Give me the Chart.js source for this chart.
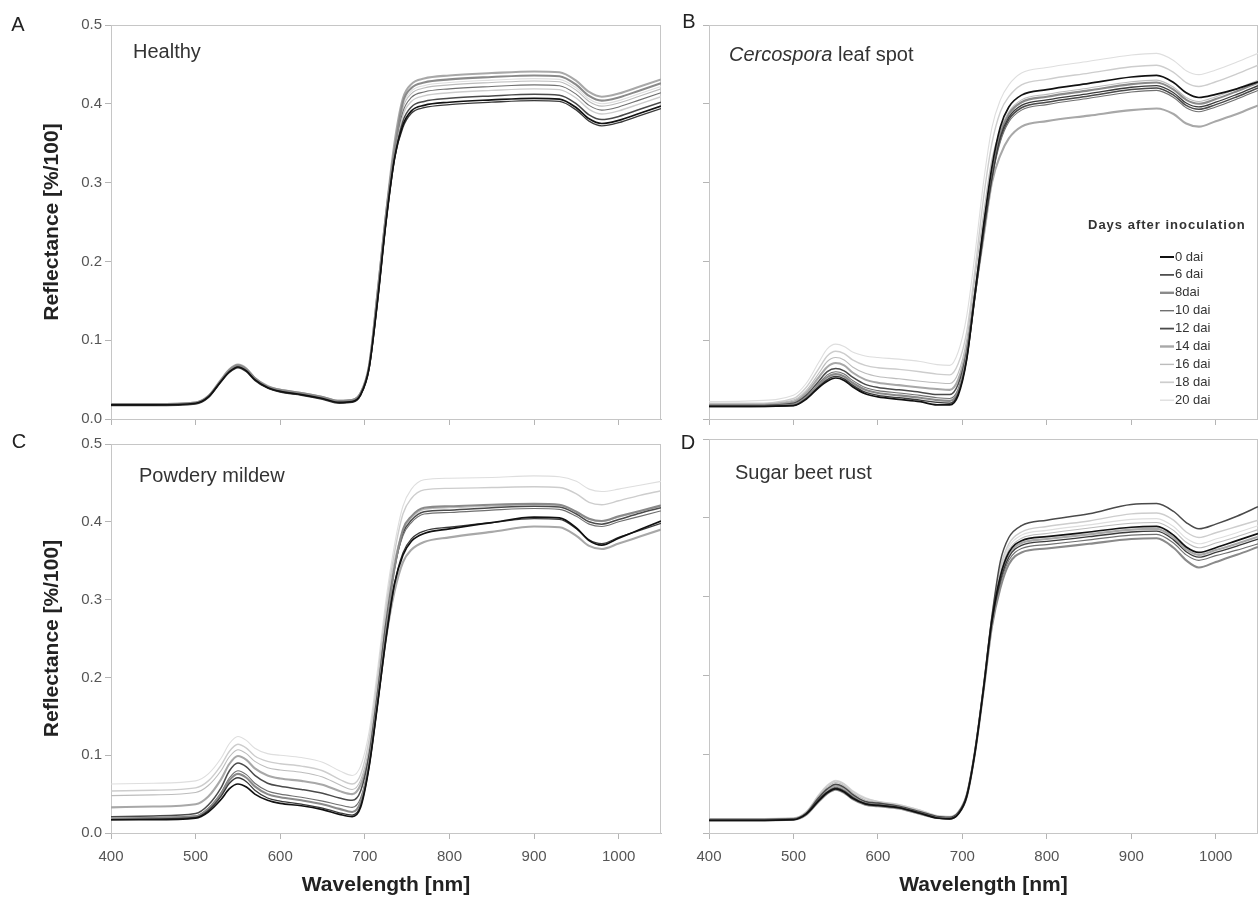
<!DOCTYPE html>
<html>
<head>
<meta charset="utf-8">
<title>Reflectance spectra of sugar beet leaves</title>
<script src="https://cdn.jsdelivr.net/npm/chart.js@4.4.1/dist/chart.umd.min.js"></script>
<style>
  body { margin: 0; background: #fff; }
  #wrap { position: relative; width: 1258px; height: 901px; overflow: hidden; }
  canvas { position: absolute; }
</style>
</head>
<body>
<div id="wrap">
  <canvas id="chartA" width="664" height="432" style="left:0;top:0"></canvas>
  <canvas id="chartB" width="594" height="432" style="left:664px;top:0"></canvas>
  <canvas id="chartC" width="664" height="469" style="left:0;top:432px"></canvas>
  <canvas id="chartD" width="594" height="469" style="left:664px;top:432px"></canvas>
</div>
<script>
const wavelengths = [400, 450, 500, 515, 530, 540, 550, 560, 570, 585, 600, 625, 650, 670, 685, 695,
  705, 715, 725, 735, 745, 755, 770, 800, 850, 900, 930, 950, 965, 980, 1000, 1025, 1050];
const daiLabels = ['0 dai', '6 dai', '8dai', '10 dai', '12 dai', '14 dai', '16 dai', '18 dai', '20 dai'];
const xTicks = [400, 500, 600, 700, 800, 900, 1000];
const yTicks = [0, 0.1, 0.2, 0.3, 0.4, 0.5];

// one row per dai (0, 6, 8, 10, 12, 14, 16, 18, 20)
const healthy = [
  [.018,.018,.020,.028,.048,.060,.066,.061,.050,.040,.035,.031,.026,.021,.022,.031,.065,.15,.25,.33,.373,.391,.398,.402,.405,.407,.406,.395,.381,.375,.379,.388,.397],
  [.017,.017,.019,.027,.047,.059,.065,.060,.049,.039,.034,.030,.025,.020,.021,.030,.063,.15,.25,.33,.370,.388,.395,.399,.402,.404,.403,.392,.378,.372,.376,.385,.394],
  [.019,.019,.021,.029,.049,.062,.068,.063,.052,.041,.037,.033,.028,.023,.024,.033,.067,.16,.26,.34,.402,.420,.427,.431,.434,.436,.435,.424,.410,.404,.408,.417,.426],
  [.018,.018,.020,.028,.048,.061,.067,.062,.051,.040,.036,.032,.027,.022,.023,.032,.066,.15,.25,.34,.390,.408,.415,.419,.422,.424,.423,.412,.398,.392,.396,.405,.414],
  [.018,.018,.020,.028,.048,.060,.066,.061,.050,.040,.035,.031,.026,.021,.022,.031,.065,.15,.25,.33,.378,.396,.403,.407,.410,.412,.411,.400,.386,.380,.384,.393,.402],
  [.019,.019,.021,.029,.050,.063,.069,.064,.052,.042,.037,.033,.028,.023,.024,.033,.068,.16,.26,.35,.407,.425,.432,.436,.439,.441,.440,.429,.415,.409,.413,.422,.431],
  [.019,.019,.021,.029,.049,.062,.068,.063,.051,.041,.036,.032,.027,.022,.023,.032,.066,.16,.26,.34,.395,.413,.420,.424,.427,.429,.428,.417,.403,.397,.401,.410,.419],
  [.018,.018,.020,.028,.048,.061,.067,.062,.051,.040,.036,.032,.027,.022,.023,.032,.066,.15,.25,.33,.385,.403,.410,.414,.417,.419,.418,.407,.393,.387,.391,.400,.409],
  [.019,.019,.021,.029,.049,.062,.068,.063,.052,.041,.037,.033,.028,.023,.024,.033,.067,.16,.26,.34,.398,.416,.423,.427,.430,.432,.431,.420,.406,.400,.404,.413,.422]
];
const cercospora = [
  [.016,.016,.017,.025,.040,.048,.052,.049,.041,.032,.028,.025,.022,.018,.018,.030,.075,.16,.245,.32,.371,.396,.411,.418,.426,.434,.436,.427,.414,.408,.412,.419,.428],
  [.016,.016,.017,.026,.041,.050,.054,.051,.043,.034,.030,.027,.024,.021,.020,.032,.075,.155,.235,.305,.358,.383,.398,.405,.413,.421,.423,.414,.401,.396,.402,.412,.423],
  [.016,.016,.018,.027,.043,.053,.057,.054,.046,.037,.033,.030,.027,.024,.023,.035,.08,.16,.24,.31,.362,.387,.402,.409,.417,.425,.427,.418,.405,.400,.406,.416,.427],
  [.017,.017,.019,.028,.045,.056,.060,.057,.049,.040,.036,.033,.030,.027,.026,.038,.08,.155,.235,.305,.352,.377,.392,.399,.407,.415,.417,.408,.395,.390,.396,.406,.417],
  [.017,.017,.020,.030,.048,.060,.064,.061,.053,.044,.040,.037,.034,.031,.031,.044,.085,.16,.24,.31,.355,.380,.395,.402,.410,.418,.420,.411,.398,.393,.399,.409,.420],
  [.018,.018,.022,.033,.053,.066,.071,.068,.059,.050,.046,.043,.040,.038,.037,.050,.09,.16,.23,.30,.335,.356,.371,.378,.385,.392,.394,.387,.375,.371,.378,.387,.398],
  [.019,.019,.024,.036,.058,.073,.078,.075,.066,.058,.054,.051,.048,.046,.045,.058,.10,.18,.26,.33,.367,.390,.405,.412,.420,.428,.430,.421,.408,.403,.409,.419,.430],
  [.020,.020,.026,.040,.064,.080,.086,.083,.075,.068,.065,.063,.060,.057,.056,.070,.11,.19,.28,.35,.39,.409,.424,.431,.439,.447,.449,.440,.427,.422,.428,.438,.449],
  [.022,.023,.030,.045,.072,.089,.095,.092,.085,.080,.078,.076,.073,.069,.068,.085,.13,.21,.30,.37,.405,.424,.439,.446,.454,.462,.464,.455,.442,.437,.443,.453,.464]
];
const powderyMildew = [
  [.017,.017,.019,.027,.043,.057,.063,.059,.050,.042,.038,.035,.030,.024,.021,.033,.085,.165,.25,.32,.357,.375,.385,.391,.399,.406,.405,.392,.376,.370,.379,.390,.401],
  [.017,.018,.020,.029,.047,.064,.071,.066,.055,.045,.041,.037,.032,.026,.023,.035,.085,.165,.25,.32,.36,.378,.388,.393,.399,.404,.403,.391,.377,.372,.380,.389,.398],
  [.018,.019,.021,.031,.050,.068,.076,.071,.060,.050,.046,.042,.037,.031,.027,.040,.09,.17,.26,.34,.390,.407,.418,.420,.422,.423,.422,.413,.404,.401,.407,.414,.421],
  [.019,.020,.022,.032,.052,.071,.080,.075,.064,.054,.050,.046,.041,.036,.033,.045,.09,.17,.26,.34,.382,.399,.410,.412,.415,.417,.416,.407,.397,.394,.400,.407,.414],
  [.021,.022,.025,.036,.058,.080,.090,.085,.074,.064,.060,.056,.051,.045,.042,.054,.10,.18,.27,.34,.385,.402,.413,.415,.418,.420,.419,.410,.400,.397,.403,.411,.418],
  [.033,.034,.037,.047,.069,.089,.099,.094,.083,.074,.070,.067,.062,.054,.050,.062,.10,.17,.25,.31,.348,.364,.374,.380,.387,.394,.393,.382,.369,.365,.372,.381,.390],
  [.048,.049,.052,.061,.080,.098,.107,.102,.092,.084,.081,.078,.072,.062,.056,.068,.11,.19,.28,.35,.388,.405,.416,.418,.420,.422,.421,.412,.403,.400,.406,.413,.420],
  [.054,.055,.058,.067,.087,.105,.114,.109,.099,.092,.089,.086,.080,.069,.063,.075,.12,.20,.29,.36,.41,.430,.441,.443,.444,.445,.444,.436,.425,.422,.427,.434,.440],
  [.063,.064,.067,.076,.096,.115,.124,.119,.109,.102,.100,.097,.091,.080,.074,.086,.13,.21,.30,.37,.42,.442,.454,.456,.457,.459,.458,.452,.442,.439,.442,.447,.452]
];
const sugarBeetRust = [
  [.016,.016,.017,.024,.041,.051,.056,.052,.044,.037,.035,.032,.025,.019,.018,.024,.046,.103,.183,.27,.326,.356,.371,.376,.382,.388,.389,.378,.363,.356,.362,.371,.380],
  [.016,.016,.017,.024,.042,.052,.057,.053,.045,.037,.035,.032,.025,.019,.018,.024,.046,.103,.182,.268,.320,.350,.365,.370,.376,.382,.383,.372,.357,.350,.356,.364,.373],
  [.016,.016,.017,.023,.040,.050,.055,.051,.043,.036,.034,.031,.024,.019,.018,.024,.045,.102,.18,.262,.311,.341,.356,.361,.367,.373,.374,.362,.346,.337,.344,.353,.363],
  [.016,.016,.017,.024,.042,.052,.058,.054,.046,.038,.036,.033,.026,.020,.019,.025,.046,.103,.182,.266,.316,.346,.361,.366,.372,.378,.379,.368,.353,.346,.352,.359,.367],
  [.017,.017,.018,.025,.045,.056,.062,.058,.049,.040,.038,.034,.027,.021,.020,.026,.048,.105,.185,.275,.345,.375,.390,.397,.405,.417,.418,.408,.394,.386,.392,.402,.414],
  [.017,.017,.018,.025,.044,.054,.060,.056,.047,.039,.037,.033,.026,.020,.019,.025,.047,.104,.183,.27,.323,.353,.368,.373,.379,.385,.386,.375,.360,.353,.359,.367,.376],
  [.017,.017,.018,.026,.047,.058,.064,.060,.051,.042,.039,.035,.028,.021,.020,.026,.049,.106,.186,.272,.329,.359,.374,.380,.387,.393,.394,.384,.369,.362,.368,.376,.385],
  [.018,.018,.019,.027,.048,.060,.066,.062,.053,.044,.040,.036,.029,.022,.021,.027,.05,.107,.187,.275,.337,.367,.382,.389,.396,.405,.406,.397,.382,.375,.381,.389,.397],
  [.018,.018,.019,.027,.049,.061,.067,.063,.054,.045,.040,.036,.029,.022,.021,.027,.05,.107,.187,.275,.333,.363,.378,.384,.391,.398,.399,.389,.374,.367,.373,.381,.390]
];

const lineColors = ['#111111', '#3a3a3a', '#8a8a8a', '#707070', '#4a4a4a', '#a8a8a8', '#bcbcbc', '#cdcdcd', '#dedede'];
const lineWidths = [1.7, 1.3, 2.1, 1.1, 1.5, 2.1, 1.1, 1.4, 1.1];

const FONT = "'Liberation Sans', Arial, sans-serif";
Chart.defaults.font.family = FONT;

// frame, panel letter, panel name and the dai legend
const panelDecor = {
  id: 'panelDecor',
  beforeDatasetsDraw(chart) {
    const ctx = chart.ctx, a = chart.chartArea;
    ctx.save();
    ctx.strokeStyle = '#c6c6c6';
    ctx.lineWidth = 1;
    ctx.strokeRect(a.left + 0.5, a.top + 0.5, a.right - a.left - 1, a.bottom - a.top);
    ctx.restore();
  },
  afterDraw(chart, args, o) {
    const ctx = chart.ctx;
    ctx.save();
    ctx.fillStyle = '#222';
    ctx.textBaseline = 'middle';
    ctx.textAlign = 'center';
    ctx.font = '20px ' + FONT;
    ctx.fillText(o.letter, o.letterX, o.letterY);

    ctx.textAlign = 'left';
    ctx.fillStyle = '#333';
    let x = o.titleX;
    o.title.forEach(p => {
      ctx.font = (p[1] ? 'italic ' : '') + '20px ' + FONT;
      ctx.fillText(p[0], x, o.titleY);
      x += ctx.measureText(p[0]).width;
    });

    if (o.legend) {
      const L = o.legend;
      ctx.font = 'bold 13px ' + FONT;
      ctx.letterSpacing = '1px';
      ctx.fillText('Days after inoculation', L.titleX, L.titleY);
      ctx.letterSpacing = '0px';
      ctx.font = '13px ' + FONT;
      chart.data.datasets.forEach((ds, i) => {
        const y = L.itemY + i * L.step;
        ctx.strokeStyle = ds.borderColor;
        ctx.lineWidth = ds.borderWidth + 0.3;
        ctx.beginPath();
        ctx.moveTo(L.lineX1, y);
        ctx.lineTo(L.lineX2, y);
        ctx.stroke();
        ctx.fillText(ds.label, L.textX, y);
      });
    }
    ctx.restore();
  }
};

function makePanel(id, series, cfg) {
  new Chart(document.getElementById(id), {
    type: 'line',
    data: {
      datasets: series.map((vals, i) => ({
        label: daiLabels[i],
        data: wavelengths.map((w, j) => ({ x: w, y: vals[j] })),
        borderColor: lineColors[i],
        borderWidth: lineWidths[i],
        pointRadius: 0,
        cubicInterpolationMode: 'monotone',
        fill: false
      }))
    },
    options: {
      responsive: false,
      animation: false,
      events: [],
      layout: { padding: { top: cfg.padTop, right: cfg.padRight, left: 0, bottom: 0 } },
      plugins: {
        legend: { display: false },
        tooltip: { enabled: false },
        panelDecor: cfg.decor
      },
      scales: {
        x: {
          type: 'linear',
          min: 400,
          max: 1050,
          afterBuildTicks: s => { s.ticks = xTicks.map(v => ({ value: v })); },
          afterFit: s => { s.height = cfg.xHeight; },
          ticks: { display: cfg.labels, color: '#555', font: { size: 15 }, padding: 9, maxRotation: 0, autoSkip: false, callback: v => String(v) },
          grid: { drawOnChartArea: false, drawTicks: true, tickLength: 6, color: '#b5b5b5' },
          border: { color: '#bdbdbd' },
          title: {
            display: cfg.labels,
            text: 'Wavelength [nm]',
            color: '#222',
            font: { size: 21, weight: 'bold' },
            padding: { top: 0, bottom: 3 }
          }
        },
        y: {
          min: 0,
          max: 0.5,
          afterBuildTicks: s => { s.ticks = yTicks.map(v => ({ value: v })); },
          afterFit: s => { s.width = cfg.yWidth; },
          ticks: { display: cfg.yLabels, color: '#555', font: { size: 15 }, padding: 3, callback: v => v.toFixed(1) },
          grid: { drawOnChartArea: false, drawTicks: true, tickLength: 6, color: '#b5b5b5' },
          border: { color: '#bdbdbd' },
          title: {
            display: cfg.yLabels,
            text: 'Reflectance [%/100]',
            color: '#222',
            font: { size: 21, weight: 'bold' },
            padding: { top: 40, bottom: 0 }
          }
        }
      }
    },
    plugins: [panelDecor]
  });
}

makePanel('chartA', healthy, {
  padTop: 25, padRight: 3, xHeight: 13, yWidth: 111, labels: false, yLabels: true,
  decor: { letter: 'A', letterX: 18, letterY: 25, titleX: 133, titleY: 52, title: [['Healthy', false]] }
});
makePanel('chartB', cercospora, {
  padTop: 25, padRight: 0, xHeight: 13, yWidth: 45, labels: false, yLabels: false,
  decor: {
    letter: 'B', letterX: 25, letterY: 22, titleX: 65, titleY: 55,
    title: [['Cercospora', true], [' leaf spot', false]],
    legend: { titleX: 424, titleY: 225, lineX1: 496, lineX2: 510, textX: 511, itemY: 257, step: 17.9 }
  }
});
makePanel('chartC', powderyMildew, {
  padTop: 7, padRight: 3, xHeight: 68, yWidth: 111, labels: true, yLabels: true,
  decor: { letter: 'C', letterX: 19, letterY: 10, titleX: 139, titleY: 44, title: [['Powdery mildew', false]] }
});
makePanel('chartD', sugarBeetRust, {
  padTop: 7, padRight: 0, xHeight: 68, yWidth: 45, labels: true, yLabels: false,
  decor: { letter: 'D', letterX: 24, letterY: 11, titleX: 71, titleY: 41, title: [['Sugar beet rust', false]] }
});
</script>
</body>
</html>
